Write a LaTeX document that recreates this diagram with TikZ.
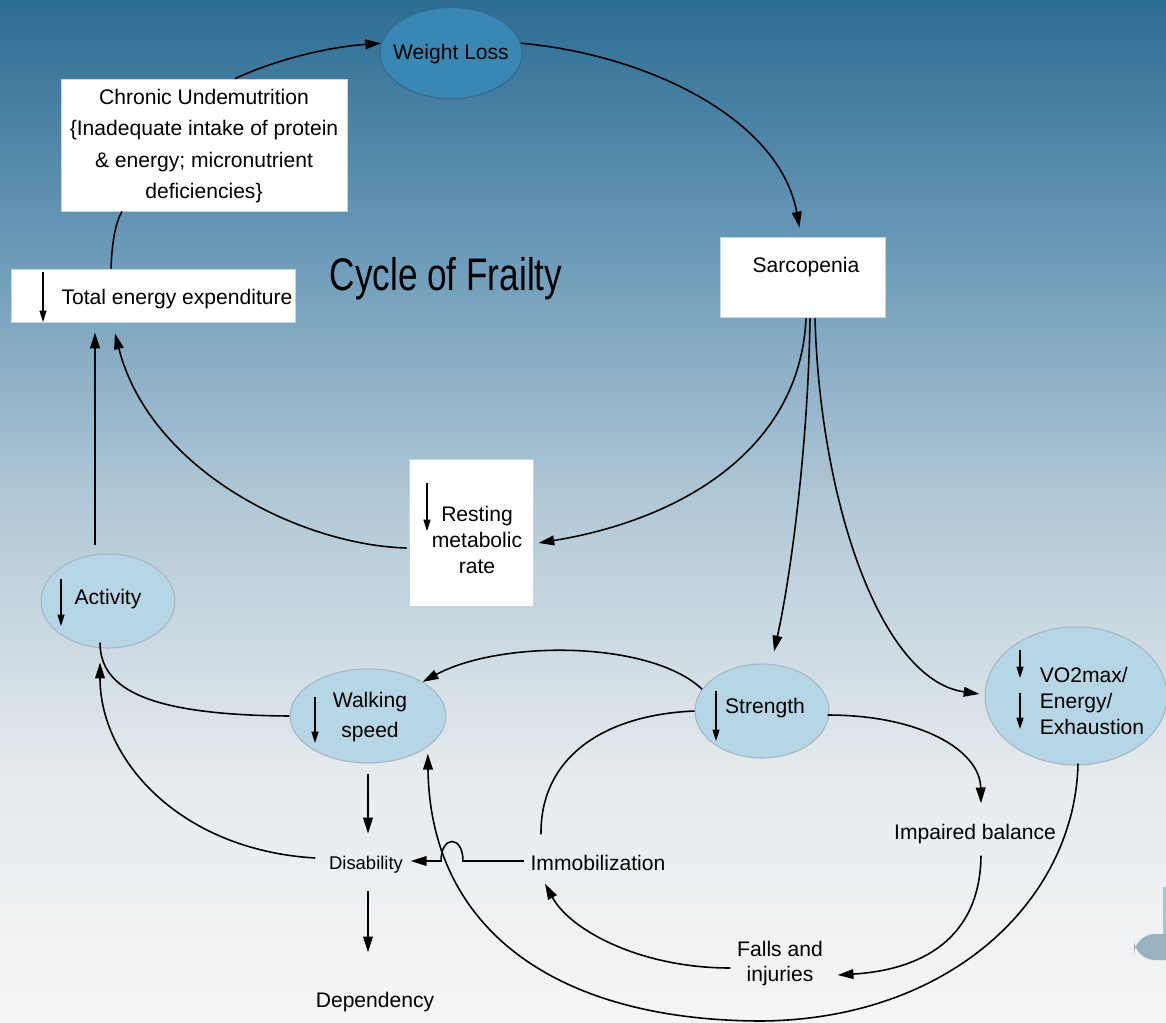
\documentclass[tikz,border=0pt]{standalone}
\usepackage{fontspec}
\usepackage{graphicx}
\setmainfont{Liberation Sans}
\usetikzlibrary{shapes.geometric,arrows.meta,calc}
\definecolor{bgA}{HTML}{2D6C93}
\definecolor{bgB}{HTML}{6B9AB8}
\definecolor{bgC}{HTML}{B1C8D6}
\definecolor{bgD}{HTML}{E6EBEE}
\definecolor{bgE}{HTML}{F5F5F5}
\definecolor{ellf}{HTML}{B6D6E6}
\definecolor{ellb}{HTML}{A3B7C2}
\definecolor{wlf}{HTML}{3B87B4}
\definecolor{wlb}{HTML}{2F6B8F}
\definecolor{boxb}{HTML}{C4D5E0}
\definecolor{logog}{HTML}{98B2C0}
\definecolor{logoc}{HTML}{8CCDE8}
\begin{document}
\begin{tikzpicture}[x=0.02cm,y=-0.02cm,
  lbl/.style={font=\fontsize{12}{17}\selectfont, inner sep=2pt, align=center, text=black},
  ell/.style={ellipse, draw=ellb, line width=0.6pt, fill=ellf, inner sep=0pt},
  box/.style={rectangle, draw=boxb, line width=0.5pt, fill=white, inner sep=0pt},
  conn/.style={line width=0.9pt, draw=black},
  arr/.style={conn, -{Triangle[length=9pt,width=5.5pt]}},
  dn/.style={line width=0.7pt, -{Triangle[length=6.5pt,width=4pt]}}]
\useasboundingbox (0,0) rectangle (1166,1022);
% background
\shade[top color=bgA, bottom color=bgB] (0,0) rectangle (1166,250.5);
\shade[top color=bgB, bottom color=bgC] (0,250) rectangle (1166,500.5);
\shade[top color=bgC, bottom color=bgD] (0,500) rectangle (1166,780.5);
\shade[top color=bgD, bottom color=bgE] (0,780) rectangle (1166,1022);
% logo fragments
\fill[logoc] (1162.5,887) rectangle (1166,936);
\fill[logog, rounded corners=12] (1134,934) rectangle (1200,960);

% nodes
\node[ell, fill=wlf, draw=wlb, minimum width=2.84cm, minimum height=1.82cm] (wl) at (451,53) {};
\node[lbl] (wlt) at (451,54) {Weight Loss};
\node[box, minimum width=5.72cm, minimum height=2.64cm] (chr) at (204,145) {};
\node[lbl, font=\fontsize{12}{18}\selectfont] (chrt) at (204,146) {Chronic Undemutrition\\\{Inadequate intake of protein\\\& energy; micronutrient\\deficiencies\}};
\node[box, minimum width=5.68cm, minimum height=1.06cm] (tee) at (153,295.5) {};
\node[lbl] (teet) at (177,299) {Total energy expenditure};
\node (title) at (446,290) [anchor=base, inner sep=0pt, font=\fontsize{26}{30}\selectfont] {\scalebox{0.77}[1]{Cycle of Frailty}};
\node[box, minimum width=3.3cm, minimum height=1.6cm] (sar) at (802.5,277) {};
\node[lbl] (sart) at (806,267) {Sarcopenia};
\node[box, minimum width=2.48cm, minimum height=2.94cm] (rmr) at (471,532.5) {};
\node[lbl, font=\fontsize{12}{15}\selectfont] (rmrt) at (477,540) {Resting\\metabolic\\rate};
\node[ell, minimum width=2.68cm, minimum height=1.88cm] (act) at (108,601) {};
\node[lbl] (actt) at (108,599) {Activity};
\node[ell, minimum width=3.12cm, minimum height=1.88cm] (ws) at (368,716) {};
\node[lbl] (wst) at (370,717) {Walking\\speed};
\node[ell, minimum width=2.68cm, minimum height=1.88cm] (str) at (762,711) {};
\node[lbl] (strt) at (765,708) {Strength};
\node[ell, minimum width=3.64cm, minimum height=2.76cm] (vo) at (1076,696) {};
\node[lbl, font=\fontsize{12}{15}\selectfont, align=left, anchor=west] (vot) at (1036,701) {VO2max/\\Energy/\\Exhaustion};
\node[lbl] (ib) at (975,834) {Impaired balance};
\node[lbl] (imm) at (598,863) {Immobilization};
\node[lbl, font=\fontsize{10.5}{13}\selectfont] (dis) at (366,865) {Disability};
\node[lbl] (dep) at (375,1002) {Dependency};
\node[lbl, font=\fontsize{12}{14.2}\selectfont] (fall) at (780,964) {Falls and\\injuries};

% down-arrow glyphs inside nodes
\draw[dn] (43,272) -- (43,322);
\draw[dn] (427,483) -- (427,531);
\draw[dn] (61,579) -- (61,626);
\draw[dn] (315,697) -- (315,743);
\draw[dn] (716,691) -- (716,741);
\draw[dn] (1020,650) -- (1020,678);
\draw[dn] (1020,693) -- (1020,729);

% connectors
\draw[arr] ($(chr.north)+(31,0)$) .. controls (280,58) and (330,47) .. (wl.172);
\draw[arr] (wl.8) .. controls (650,55) and (780,120) .. ($(sar.north)+(-3,-9)$);
\draw[conn] ($(tee.north)+(-42,0)$) .. controls (112,240) and (116,222) .. ($(chr.south)+(-82,0)$);
\draw[arr] ($(act.north)+(-13,-8)$) -- ($(tee.south)+(-58,10)$);
\draw[arr] ($(rmr.west)+(-2,15.5)$) .. controls (300,545) and (150,470) .. ($(tee.south)+(-38,11)$);
\draw[arr] ($(sar.south)+(3.5,1)$) .. controls (800,450) and (680,520) .. ($(rmr.east)+(5,10.5)$);
\draw[arr] ($(sar.south)+(7.5,1)$) .. controls (808,450) and (790,580) .. ($(str.north)+(12,-12)$);
\draw[arr] ($(sar.south)+(12.5,1)$) .. controls (820,500) and (880,680) .. ($(vo.west)+(-5,-2)$);
\draw[arr] (str.160) .. controls (650,640) and (500,640) .. (ws.32);
\draw[conn] (ws.west) .. controls (150,715) and (100,690) .. ($(act.south)+(-8,-6)$);
\draw[arr] ($(dis.west)+(-10,-7)$) .. controls (180,850) and (100,760) .. ($(act.south)+(-8,14)$);
\draw[arr] ($(ws.south)+(0,10)$) -- ($(dis.north)+(2,-19)$);
\draw[arr] ($(dis.south)+(2,14)$) -- ($(dep.north)+(-7,-36)$);
\coordinate (hopR) at (463,861);
\coordinate (hopL) at (441,861);
\draw[arr] ($(imm.west)+(-3,-2)$) -- (hopR) .. controls (463,835) and (441,835) .. (hopL) -- ($(dis.east)+(4,-4)$);
\draw[conn] ($(imm.north)+(-57,-17)$) .. controls (540,760) and (600,715) .. (str.west);
\draw[arr] ($(fall.west)+(-3,4)$) .. controls (640,968) and (570,930) .. ($(imm.south)+(-53,9)$);
\draw[arr] ($(str.east)+(-2,4)$) .. controls (920,715) and (980,750) .. ($(ib.north)+(6,-17)$);
\draw[arr] ($(ib.south)+(6,8)$) .. controls (980,940) and (920,970) .. ($(fall.east)+(11,11)$);
\coordinate (vobot) at (760,1021);
\draw[arr] ($(vo.south)+(2,-2)$) .. controls (1075,900) and (950,1020) .. (vobot) .. controls (550,1020) and (430,925) .. ($(ws.-30)+(3,5)$);
\end{tikzpicture}
\end{document}
